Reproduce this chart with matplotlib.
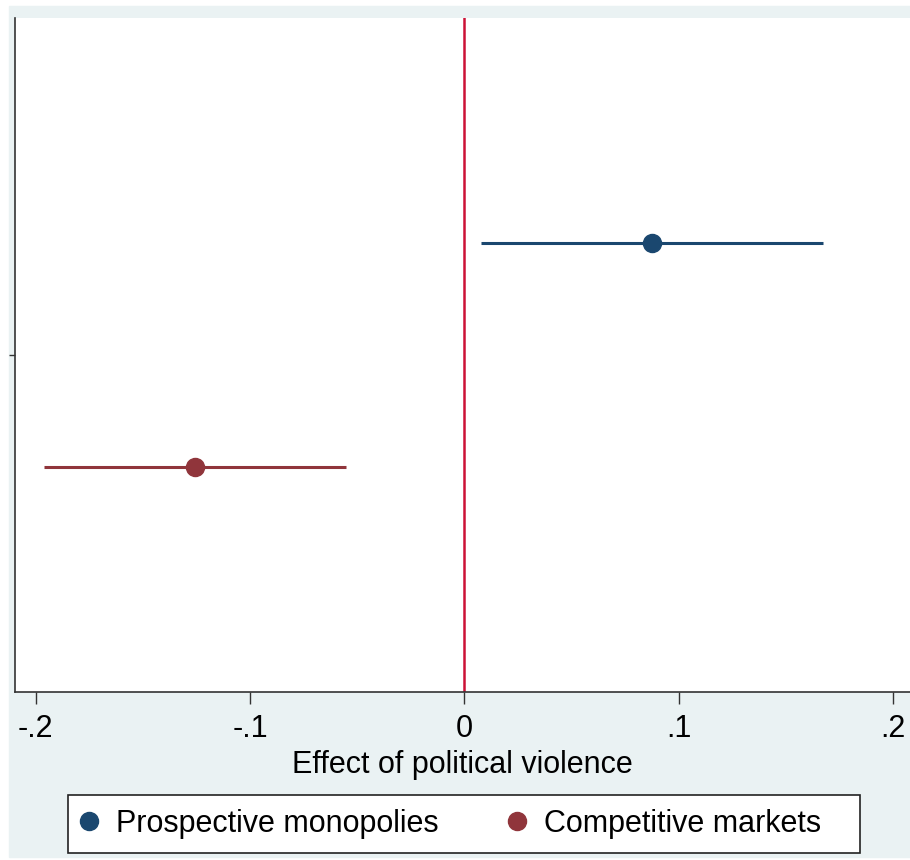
import matplotlib as mpl
mpl.use("Agg")
import matplotlib.pyplot as plt
from matplotlib.patches import Rectangle
from matplotlib.lines import Line2D

# coefficients and 95% CIs
labels = ["Prospective monopolies", "Competitive markets"]
coef = [0.0877, -0.1255]
ci_lo = [0.0079, -0.1962]
ci_hi = [0.1675, -0.0553]
ypos = [2/3, 1/3]
colors = ["#1A476F", "#90353B"]
xticks = [-0.2, -0.1, 0, 0.1, 0.2]
xticklabels = ["-.2", "-.1", "0", ".1", ".2"]

plt.rcParams['font.family'] = ['Liberation Sans', 'DejaVu Sans']

W, H = 910, 860
fig = plt.figure(figsize=(W/100, H/100), dpi=100)
fig.patch.set_facecolor("white")

# stata-ish graph region
fig.patches.append(Rectangle((9/W, 3/H), 1 - 9/W, (857-8)/H - 3/H + 5/H,
                             transform=fig.transFigure, color="#EAF2F3", zorder=-5))

ax = fig.add_axes([15/W, (H-692)/H, 1 - 15/W, (692-18)/H])
ax.set_facecolor("white")

for i in range(len(labels)):
    ax.plot([ci_lo[i], ci_hi[i]], [ypos[i], ypos[i]], color=colors[i], lw=2.2,
            solid_capstyle='butt', zorder=3)
    ax.plot(coef[i], ypos[i], 'o', color=colors[i], ms=13, zorder=4)

ax.axvline(0, color="#CC1136", lw=1.8, zorder=2)

ax.set_xlim(-0.2096, 0.2079)
ax.set_ylim(0, 1)
ax.set_xticks(xticks)
ax.set_xticklabels(xticklabels, fontsize=22)
ax.set_yticks([0.5])
ax.set_yticklabels([""])
ax.tick_params(axis='x', length=8.5, width=1, color="#333333", pad=7)
ax.tick_params(axis='y', length=4.3, width=1, color="#333333")
for s in ["top", "right"]:
    ax.spines[s].set_visible(False)
for s in ["left", "bottom"]:
    ax.spines[s].set_linewidth(1.2)
    ax.spines[s].set_color("#333333")
ax.set_xlabel("Effect of political violence", fontsize=22, labelpad=5)

# legend box drawn by hand (stata leaves extra room on the right)
fig.patches.append(Rectangle((68/W, (H-853)/H), (860-68)/W, (853-795)/H,
                             transform=fig.transFigure, facecolor="white",
                             edgecolor="#222222", lw=1.2, zorder=1))
handles = [Line2D([], [], marker='o', ls='', color=c, ms=13) for c in colors]
leg = fig.legend(handles, labels, loc='center left', bbox_to_anchor=(61/W, (H-824)/H),
                 ncol=2, fontsize=22, frameon=False, handletextpad=0.4,
                 columnspacing=2.05, borderpad=0.4, handlelength=1.0,
                 borderaxespad=0)
leg.set_zorder(2)

fig.savefig("out.png", dpi=100)
